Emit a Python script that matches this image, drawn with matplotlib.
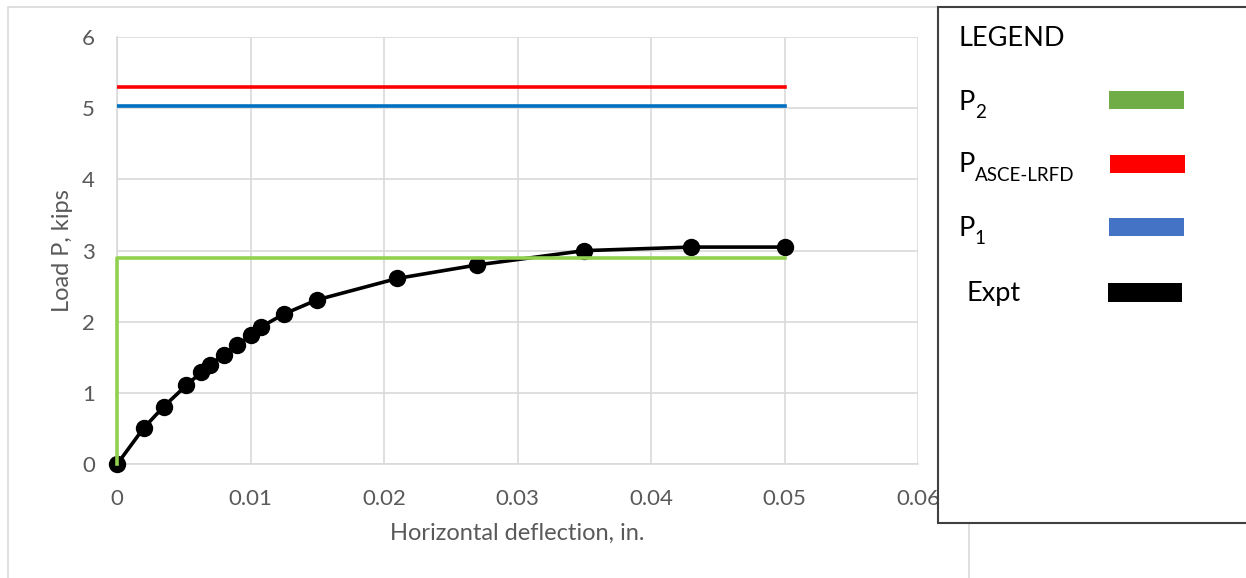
import matplotlib
matplotlib.use("Agg")
import matplotlib.pyplot as plt
from matplotlib.patches import Rectangle
from matplotlib.text import Annotation

# Measured load-deflection curve
deflection = [0.0, 0.0020, 0.0035, 0.0052, 0.0063, 0.0070, 0.0080, 0.0090,
              0.0100, 0.0108, 0.0125, 0.0150, 0.0210, 0.0270, 0.0350, 0.0430, 0.0500]
load = [0.0, 0.51, 0.81, 1.11, 1.29, 1.40, 1.54, 1.67,
        1.81, 1.93, 2.11, 2.31, 2.61, 2.80, 3.00, 3.05, 3.05]

# Predicted capacities (kips) and the deflection range they span
p2 = 2.90
p_asce_lrfd = 5.30
p1 = 5.03
x_end = 0.05

x_ticks = [0, 0.01, 0.02, 0.03, 0.04, 0.05, 0.06]
x_tick_labels = ["0", "0.01", "0.02", "0.03", "0.04", "0.05", "0.06"]
y_ticks = [0, 1, 2, 3, 4, 5, 6]

W, H = 1246, 578
plt.rcParams["font.family"] = ["Lato", "DejaVu Sans"]

fig = plt.figure(figsize=(W / 100, H / 100), dpi=100)
fig.patch.set_facecolor("white")


def fx(px):
    return px / W


def fy(py):
    return 1 - py / H


# chart area outline
fig.add_artist(Rectangle((fx(8), fy(590)), fx(969) - fx(8), fy(7) - fy(590),
                         transform=fig.transFigure, fill=False,
                         edgecolor="#d9d9d9", linewidth=1.2, zorder=0))

ax = fig.add_axes([fx(117), fy(464.3), fx(918) - fx(117), fy(37) - fy(464.3)])
ax.set_xlim(0, 0.06)
ax.set_ylim(0, 6)
ax.set_xticks(x_ticks)
ax.set_xticklabels(x_tick_labels)
ax.set_yticks(y_ticks)
ax.grid(True, color="#d9d9d9", linewidth=1.2)
ax.set_axisbelow(True)
for side in ["top", "right"]:
    ax.spines[side].set_visible(False)
for side in ["left", "bottom"]:
    ax.spines[side].set_color("#d9d9d9")
    ax.spines[side].set_linewidth(1.2)
ax.tick_params(length=0, labelsize=16, labelcolor="#595959")
ax.tick_params(axis="y", pad=16)
ax.tick_params(axis="x", pad=18)

ax.plot(deflection, load, color="black", linewidth=2.6, marker="o",
        markersize=11.5, zorder=3, clip_on=False)
ax.plot([0, 0, x_end], [0, p2, p2], color="#92d050", linewidth=2.6,
        zorder=4, clip_on=False)
ax.plot([0, x_end], [p_asce_lrfd, p_asce_lrfd], color="#ff0000",
        linewidth=2.6, zorder=4)
ax.plot([0, x_end], [p1, p1], color="#0070c0", linewidth=2.6, zorder=4)

ax.set_xlabel("Horizontal deflection, in.", fontsize=17, color="#595959",
              labelpad=10)
ax.set_ylabel("Load P, kips", fontsize=17, color="#595959", labelpad=6)

# legend panel
fig.add_artist(Rectangle((fx(937.5), fy(522.5)), fx(1300) - fx(937.5),
                         fy(6.7) - fy(522.5), transform=fig.transFigure,
                         facecolor="white", edgecolor="#404040",
                         linewidth=1.5, zorder=10))

fig.text(fx(958), fy(39), "LEGEND", fontsize=19.5, color="black",
         va="center", ha="left", zorder=11)

legend_rows = [
    ("P", "2", 102, "#70ad47", 1109, 1184),
    ("P", "ASCE-LRFD", 165, "#ff0000", 1110, 1185),
    ("P", "1", 228, "#4472c4", 1109, 1184),
]
swatch_centres = [100, 164, 227]
for (main, sub, yc, color, x0, x1), sc in zip(legend_rows, swatch_centres):
    t = fig.text(fx(958), fy(yc), main, fontsize=19.5, color="black",
                 va="center", ha="left", zorder=11)
    fig.add_artist(Annotation(
        sub, xy=(1, 0), xycoords=t, xytext=(0.3, -2.5),
        textcoords="offset points", fontsize=13.5, color="black",
        va="baseline", ha="left", zorder=11))
    fig.add_artist(Rectangle((fx(x0), fy(sc + 9)), fx(x1) - fx(x0),
                             fy(sc - 9) - fy(sc + 9),
                             transform=fig.transFigure, facecolor=color,
                             edgecolor="none", zorder=11))

fig.text(fx(967), fy(293), "Expt", fontsize=19.5, color="black",
         va="center", ha="left", zorder=11)
fig.add_artist(Rectangle((fx(1108), fy(301.5)), fx(1182) - fx(1108),
                         fy(283) - fy(301.5), transform=fig.transFigure,
                         facecolor="black", edgecolor="none", zorder=11))

fig.savefig("out.png", dpi=100, facecolor="white")
